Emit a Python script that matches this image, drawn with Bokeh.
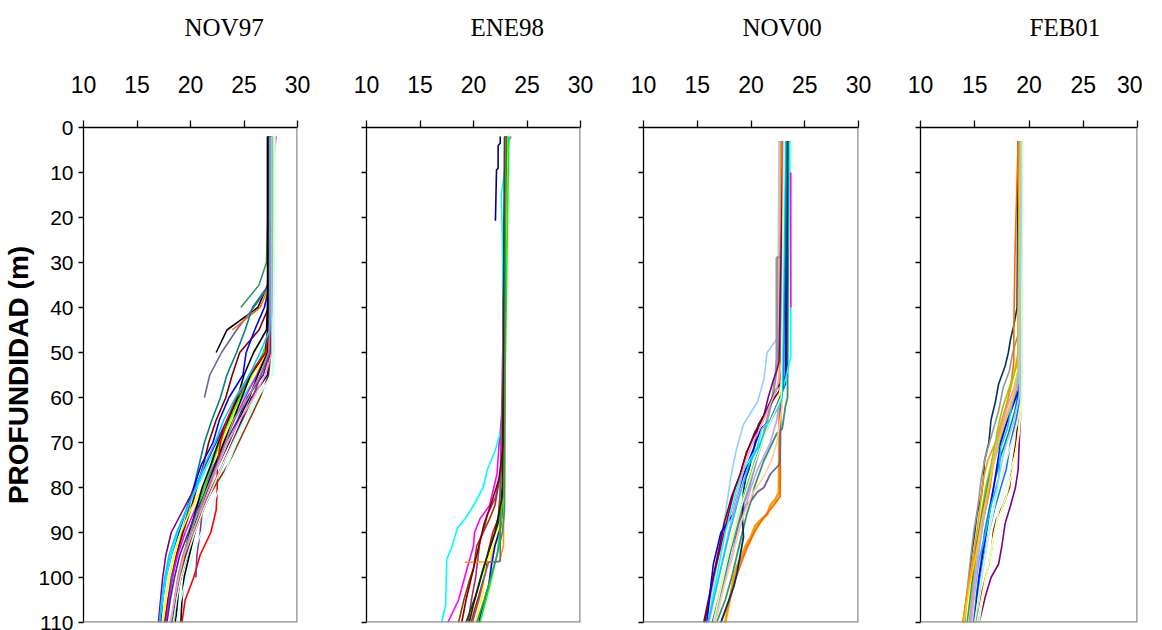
from bokeh.plotting import figure
from bokeh.layouts import row
from bokeh.models import FixedTicker, Range1d, Span, Title, LinearAxis
from bokeh.embed import file_html
from bokeh.resources import INLINE

X_TICKS = [10, 15, 20, 25, 30]
Y_TICKS = [0, 10, 20, 30, 40, 50, 60, 70, 80, 90, 100, 110]
TITLES = ["NOV97", "ENE98", "NOV00", "FEB01"]
Y_LABEL = "PROFUNDIDAD (m)"

# ---------------- NOV97 (shared depth grid) ----------------
NOV97_GRID = [2, 10, 20, 30, 35, 40, 45, 50, 55, 60, 65, 70, 75, 80, 85, 90, 95, 100, 105, 110]
NOV97_COLORS = ["#000000", "#666699", "#FF6600", "#339966", "#008080", "#800000", "#0000FF",
                "#800080", "#00FFFF", "#FFFF00", "#FF00FF", "#00FF00", "#000000", "#000000",
                "#000000", "#FF0000", "#993300", "#000080", "#333399", "#993366", "#969696",
                "#00CCFF", "#CCFFCC", "#FF99CC", "#CCFFFF"]
NOV97_TEMPS = [
    [27.3, 27.3, 27.3, 27.3, 27.2, 26.3, 23.4, 22.4],
    [27.4, 27.4, 27.4, 27.4, 27.4, 25.9, 24.3, 22.9, 21.8, 21.3],
    [27.5, 27.5, 27.5, 27.5, 27.4, 26.5, 23.9],
    [27.2, 27.2, 27.2, 27.1, 26.4, 24.7],
    [27.4, 27.4, 27.4, 27.4, 27.3, 25.8, 25.1, 24.3, 23.4, 22.8, 22.0, 21.3, 20.8, 20.3, 19.8, 19.2, 18.7, 18.2, 17.9, 17.6],
    [27.4, 27.4, 27.4, 27.4, 27.4, 27.3, 26.4, 24.6, 23.9, 23.3, 22.4, 21.7, 21.2, 20.6, 20.0, 19.3, 18.7, 18.3, 17.9, 17.6],
    [27.5, 27.5, 27.5, 27.5, 27.4, 26.9, 26.0, 25.2, 24.9, 23.6, 22.7, 22.1, 21.0, 20.3, 19.6, 18.9, 18.2, 17.7, 17.4, 17.2],
    [27.5, 27.5, 27.5, 27.5, 27.5, 27.5, 27.4, 27.0, 25.7, 24.5, 23.4, 22.4, 21.4, 20.4, 19.3, 18.2, 17.7, 17.4, 17.2, 17.0],
    [27.6, 27.6, 27.6, 27.6, 27.6, 27.5, 27.4, 27.2, 26.2, 24.9, 23.7, 22.7, 21.6, 20.6, 19.6, 18.8, 18.2, 17.7, 17.4, 17.1],
    [27.6, 27.6, 27.6, 27.6, 27.5, 27.5, 27.4, 27.3, 25.8, 24.7, 23.8, 22.9, 22.0, 21.1, 20.0, 19.1, 18.5, 18.0, 17.7, 17.4],
    [28.0, 27.6, 27.6, 27.6, 27.6, 27.5, 27.5, 27.2, 26.2, 25.1, 24.1, 23.2, 22.2, 21.3, 20.4, 19.5, 18.8, 18.3, 18.0, 17.7],
    [27.7, 27.7, 27.7, 27.7, 27.6, 27.6, 27.5, 26.8, 25.7, 24.6, 23.6, 22.7, 22.0, 21.3, 20.6, 20.0, 19.4, 18.9, 18.5, 18.3],
    [27.2, 27.2, 27.2, 27.2, 27.2, 27.2, 27.2, 27.0, 25.6, 24.8, 24.0, 23.1, 22.3, 21.5, 20.8, 20.2, 19.6, 19.1, 18.7, 18.4],
    [27.3, 27.3, 27.3, 27.3, 27.3, 27.2, 27.1, 25.9, 25.0, 24.4, 23.5, 22.6, 21.9, 21.1, 20.5, 19.9, 19.4, 19.0, 18.8, 18.6],
    [27.3, 27.3, 27.3, 27.3, 27.3, 27.3, 27.3, 27.2, 26.3, 25.5, 24.5, 23.6, 22.6, 21.7, 21.0, 20.4, 19.9, 19.4, 19.2, 19.1],
    [27.4, 27.4, 27.4, 27.4, 27.4, 27.4, 27.3, 27.0, 25.5, 24.3, 23.4, 22.8, 22.5, 22.5, 22.4, 21.9, 20.9, 20.3, 19.5, 19.2],
    [27.5, 27.5, 27.5, 27.5, 27.5, 27.5, 27.5, 27.5, 27.3, 26.5, 25.5, 24.5, 23.5, 22.2, 21.0, 20.2, 19.5, 19.0, 18.5, 18.2],
    [27.4, 27.4, 27.4, 27.4, 27.4, 27.4, 27.4, 27.4, 27.2, 25.7, 24.8, 23.9, 23.0, 22.1, 21.2, 20.4, 19.7, 19.1, 18.6, 18.2],
    [27.4, 27.4, 27.4, 27.4, 27.4, 27.4, 27.4, 27.4, 26.8, 25.3, 24.4, 23.3, 22.4, 21.6, 20.6, 19.8, 19.0, 18.5, 18.1, 17.8],
    [27.4, 27.4, 27.4, 27.4, 27.4, 27.4, 27.4, 27.4, 26.6, 25.8, 24.9, 23.9, 23.0, 22.0, 21.1, 20.9, 20.6, 20.5],
    [27.4, 27.4, 27.4, 27.4, 27.4, 27.4, 27.4, 27.3, 26.5, 25.4, 24.0, 23.3, 22.5, 21.6, 20.8, 20.0, 19.3, 18.8, 18.5, 18.2],
    [27.5, 27.5, 27.5, 27.5, 27.5, 27.5, 27.4, 26.5, 25.5, 24.2, 23.1, 22.3, 21.3, 20.5, 19.6, 18.7, 18.0, 17.6, 17.3, 17.1],
    [27.8, 27.8, 27.8, 27.8, 27.8, 27.8, 27.8, 27.8, 27.7, 26.0, 25.0, 24.0, 23.0, 22.1, 21.2, 20.4, 19.7, 19.1, 18.7, 18.4],
    [27.6, 27.6, 27.6, 27.6, 27.6, 27.6, 27.6, 27.6, 27.0, 25.9, 24.6, 23.5, 22.6, 21.8, 21.0, 20.2, 19.4, 18.9, 18.5, 18.1],
    [27.9, 27.9, 27.9, 27.8, 27.8, 27.8, 27.7, 27.7, 27.6, 26.3, 25.2, 24.3, 23.5, 22.7, 21.9, 21.0, 20.2, 19.6, 19.1, 18.7],
]

# ---------------- ENE98 ----------------
ENE98_COLORS = ["#000080", "#FF00FF", "#00FFFF", "#993300", "#993366", "#FF0000", "#FFFF00",
                "#FFCC00", "#0000FF", "#00FF00", "#333300", "#FF9900", "#666699", "#003300",
                "#800000", "#339966"]
ENE98_DEPTHS = [
    [2, 3.5, 4, 9, 9.5, 20.7],
    [2, 4, 13, 20, 40, 60, 65, 70, 77, 81, 84, 87, 90, 93, 98, 105, 110],
    [2, 10, 15, 25, 60, 63, 67, 72, 76, 80, 84, 87, 89, 93, 96, 106, 110],
    [2, 40, 70, 77, 84, 87, 90, 93, 98, 100, 105, 110],
    [2, 60, 75, 82, 86, 89, 92, 100, 105, 110],
    [2, 40, 50, 62, 68, 81, 87, 90, 94, 99, 104, 108, 110],
    [2, 50, 73, 86, 91, 95, 97, 103, 109, 110],
    [2, 80, 89, 95, 101, 107, 110],
    [2, 72, 83, 89, 93, 97, 102, 106, 110],
    [2, 78, 87, 95, 102, 110],
    [2, 80, 88, 93, 98, 104, 110],
    [2, 60, 93, 96.5, 96.6],
    [2, 80, 96.4, 96.6, 100, 105, 110],
    [2, 82, 90, 95, 100, 106, 110],
    [2, 70, 78, 84, 88, 92, 96, 100, 105, 110],
    [2, 85, 90, 95, 100, 105, 110],
]
ENE98_TEMPS = [
    [22.5, 22.5, 22.3, 22.3, 22.15, 22.05],
    [23.5, 23.1, 23.1, 22.9, 22.9, 22.8, 22.6, 22.4, 22.2, 21.8, 21.5, 20.6, 20.1, 20.0, 19.4, 18.6, 17.6],
    [23.4, 22.9, 22.6, 22.7, 22.8, 22.8, 22.6, 22.0, 21.3, 20.9, 20.0, 19.2, 18.5, 18.0, 17.5, 17.4, 17.0],
    [23.0, 22.8, 22.8, 22.5, 22.0, 21.5, 20.9, 20.3, 20.0, 19.7, 19.1, 18.6],
    [23.1, 22.8, 22.6, 22.1, 21.3, 21.0, 20.6, 20.2, 19.8, 19.5],
    [23.2, 22.9, 22.95, 22.9, 22.6, 22.5, 22.3, 21.8, 21.4, 21.1, 20.5, 20.0, 19.8],
    [23.2, 22.9, 22.8, 22.6, 22.2, 21.5, 21.1, 20.9, 20.3, 20.2],
    [23.1, 22.9, 22.6, 21.7, 21.5, 20.9, 20.6],
    [23.0, 22.8, 22.8, 22.5, 22.0, 21.7, 21.4, 20.9, 20.5],
    [23.3, 22.8, 22.6, 22.2, 21.5, 20.6],
    [22.9, 22.7, 22.3, 21.6, 20.9, 20.2, 19.3],
    [23.0, 22.9, 22.8, 22.4, 19.2],
    [23.1, 22.5, 22.5, 21.4, 21.0, 20.5, 19.9],
    [23.0, 22.7, 22.0, 21.3, 20.7, 20.0, 19.6],
    [23.0, 22.8, 22.4, 21.6, 21.0, 20.6, 20.2, 19.8, 19.3, 18.9],
    [23.0, 22.9, 22.7, 22.2, 21.6, 21.0, 20.3],
]

# ---------------- NOV00 ----------------
NOV00_COLORS = ["#99CCFF", "#FF9900", "#FF6600", "#969696", "#339966", "#666699", "#003366",
                "#800080", "#800000", "#0000FF", "#00FFFF", "#FF99CC", "#CC99FF", "#FFCC99",
                "#FFFF99", "#FF00FF", "#008080", "#00CCFF", "#CCFFCC"]
NOV00_WIDTHS = [1.6, 2.6, 1.8, 2.6, 1.8, 1.8, 1.8, 1.6, 1.6, 1.6, 1.6, 1.6, 1.6, 1.6,
                1.6, 1.6, 1.6, 1.6, 1.6]
NOV00_DEPTHS = [
    [3, 46, 47, 50, 56, 61, 66, 72, 78, 86, 92, 100, 110],
    [3, 81, 82.5, 84, 86, 87, 88.5, 91, 93, 95, 97.5, 100, 104, 110],
    [3, 82, 84, 86, 88, 90, 93, 96, 100, 105, 110],
    [3, 28, 29, 51, 55, 60, 64, 68, 73, 80, 86, 92, 100, 110],
    [3, 60, 62, 67, 68, 71, 74, 76, 80, 83, 86, 89, 92, 100, 105, 110],
    [3, 74, 75, 77, 80, 81, 83, 84, 87, 91, 95, 100, 105, 110],
    [3, 55, 57, 58, 61, 64, 66, 71, 76, 78, 81, 87, 91, 99, 102, 106, 110],
    [3, 52, 54, 56, 60, 64, 68, 73, 77, 81, 87, 93, 100, 110],
    [3, 58, 60, 64, 68, 72, 77, 82, 88, 95, 102, 110],
    [3, 44, 57, 60, 65, 67, 71, 74, 78, 82, 86, 90, 97, 103, 110],
    [3, 42, 51, 55, 62, 65, 67, 71, 73, 76, 80, 84, 90, 100, 110],
    [3, 50, 58, 62, 66, 71, 75, 82, 90, 100, 110],
    [3, 55, 65, 70, 73, 76, 80, 86, 92, 100, 110],
    [3, 62, 70, 74, 78, 81, 84, 88, 95, 102, 110],
    [3, 55, 62, 66, 71, 76, 82, 90, 100, 110],
    [10, 40],
    [3, 58, 63, 68, 74, 80, 87, 95, 103, 110],
    [3, 60, 66, 70, 75, 82, 90, 100, 110],
    [3, 60, 67, 75, 85, 95, 110],
]
NOV00_TEMPS = [
    [22.6, 22.5, 22.4, 21.5, 21.2, 20.6, 19.3, 18.6, 18.1, 17.6, 17.2, 16.6, 15.8],
    [22.8, 22.6, 22.3, 21.8, 21.5, 21.0, 20.4, 20.0, 19.5, 19.2, 18.7, 18.4, 18.1, 17.6],
    [22.9, 22.7, 22.1, 21.4, 20.8, 20.3, 19.7, 19.2, 18.6, 18.0, 17.2],
    [23.3, 23.3, 22.4, 22.4, 22.3, 22.0, 21.6, 21.2, 20.6, 19.8, 19.0, 18.3, 17.4, 16.4],
    [23.5, 23.4, 23.2, 22.9, 22.4, 21.8, 21.2, 20.9, 20.3, 20.0, 19.6, 19.3, 19.0, 18.2, 17.6, 16.8],
    [23.0, 22.7, 22.6, 21.8, 21.2, 20.6, 20.0, 19.5, 19.0, 18.6, 18.3, 17.6, 17.0, 16.5],
    [23.4, 23.3, 22.7, 22.4, 21.8, 21.2, 20.7, 20.3, 19.8, 19.5, 19.3, 19.2, 19.3, 18.7, 18.4, 17.8, 17.2],
    [23.0, 22.6, 22.4, 22.1, 21.6, 21.2, 20.3, 19.5, 19.0, 18.4, 17.8, 17.2, 16.5, 15.7],
    [23.1, 22.8, 22.2, 21.2, 20.4, 19.6, 19.0, 18.2, 17.5, 16.9, 16.3, 15.6],
    [23.2, 23.2, 23.2, 22.7, 21.8, 20.9, 20.3, 19.8, 19.2, 18.7, 18.3, 17.2, 16.5, 16.2, 15.9],
    [23.6, 23.7, 23.7, 23.3, 22.6, 21.8, 21.0, 20.6, 20.1, 19.3, 18.7, 18.3, 17.6, 16.8, 16.0],
    [23.1, 23.0, 22.4, 21.7, 21.0, 20.0, 19.4, 18.7, 17.9, 17.0, 16.1],
    [23.0, 22.9, 22.4, 21.8, 21.2, 20.6, 20.0, 19.3, 18.6, 17.6, 16.6],
    [23.1, 22.9, 22.4, 21.9, 21.1, 20.2, 19.7, 19.0, 18.3, 17.5, 16.7],
    [23.2, 23.0, 22.4, 21.7, 20.8, 20.0, 19.3, 18.3, 17.3, 16.3],
    [23.7, 23.7],
    [23.3, 23.0, 22.2, 21.3, 20.4, 19.6, 18.8, 18.0, 17.2, 16.4],
    [23.2, 22.9, 21.7, 20.9, 19.8, 18.9, 18.0, 17.0, 16.0],
    [23.1, 22.8, 21.5, 20.3, 19.0, 17.9, 16.5],
]

# ---------------- FEB01 ----------------
FEB01_COLORS = ["#003366", "#969696", "#FF6600", "#FF9900", "#99CC00", "#339966", "#008080",
                "#800080", "#800000", "#0000FF", "#3366FF", "#00CCFF", "#CCFFFF", "#FFFF99",
                "#FF99CC", "#CC99FF", "#FFCC00", "#99CCFF", "#CCFFCC"]
FEB01_DEPTHS = [
    [3, 40, 44, 47, 50, 53, 57, 61, 65, 70, 74, 78, 82, 86, 90, 95, 100, 105, 110],
    [3, 46, 50, 54, 58, 63, 68, 73, 78, 84, 90, 96, 103, 110],
    [3, 20, 29, 45, 52, 56, 60, 65, 70, 75, 80, 85, 90, 95, 100, 105, 110],
    [3, 50, 55, 60, 65, 70, 74, 78, 84, 90, 96, 102, 110],
    [3, 52, 57, 62, 66, 70, 75, 80, 86, 92, 100, 110],
    [3, 55, 60, 65, 70, 74, 78, 83, 88, 94, 100, 110],
    [3, 58, 63, 68, 73, 78, 84, 90, 96, 103, 110],
    [3, 54, 65, 70, 76, 80, 84, 88, 93, 97, 100, 104, 110],
    [3, 62, 70, 76, 80, 84, 87, 90, 93, 97, 103, 110],
    [3, 58, 62, 66, 70, 76, 82, 88, 94, 100, 110],
    [3, 60, 65, 70, 76, 80, 85, 90, 96, 102, 110],
    [3, 56, 62, 67, 71, 78, 84, 90, 96, 103, 110],
    [3, 60, 68, 72, 78, 84, 90, 96, 110],
    [3, 62, 70, 76, 82, 86, 90, 95, 100, 110],
    [3, 56, 62, 66, 70, 75, 80, 86, 92, 100, 110],
    [3, 52, 58, 62, 66, 72, 78, 84, 92, 100, 110],
    [3, 54, 60, 66, 71, 76, 82, 88, 95, 102, 110],
    [3, 60, 66, 72, 78, 84, 90, 96, 104, 110],
    [3, 20, 60, 66, 74, 82, 90, 100, 110],
]
FEB01_TEMPS = [
    [19.0, 18.9, 18.6, 18.3, 18.1, 17.8, 17.2, 16.9, 16.5, 16.3, 15.9, 15.8, 15.6, 15.2, 15.0, 14.7, 14.5, 14.2, 14.0],
    [19.1, 19.0, 18.5, 18.2, 17.6, 17.2, 16.6, 16.0, 15.6, 15.3, 14.9, 14.6, 14.3, 14.1],
    [19.0, 18.8, 18.7, 18.6, 18.6, 18.4, 18.1, 17.6, 17.1, 16.7, 16.4, 16.0, 15.4, 14.9, 14.6, 14.2, 13.9],
    [19.1, 19.0, 18.6, 18.1, 17.5, 16.9, 16.2, 15.8, 15.5, 15.2, 14.8, 14.4, 13.9],
    [19.2, 19.0, 18.3, 17.6, 17.2, 16.9, 16.5, 16.0, 15.6, 15.3, 14.9, 14.5],
    [19.3, 19.2, 18.7, 18.0, 17.3, 16.8, 16.3, 15.9, 15.5, 15.1, 14.8, 14.3],
    [19.2, 19.1, 18.7, 18.1, 17.4, 16.9, 16.4, 15.9, 15.6, 15.2, 14.9],
    [19.3, 19.3, 19.2, 19.1, 19.0, 18.75, 18.3, 17.8, 17.5, 17.2, 16.5, 16.0, 15.4],
    [19.2, 19.1, 18.8, 18.4, 18.2, 17.6, 17.0, 16.7, 16.6, 16.3, 15.7, 15.2],
    [19.2, 19.1, 18.5, 17.9, 17.4, 17.0, 16.6, 16.2, 15.8, 15.4, 15.0],
    [19.3, 19.2, 18.8, 18.3, 17.9, 17.4, 16.8, 16.3, 15.8, 15.4, 15.1],
    [19.2, 19.0, 18.4, 18.0, 17.4, 17.2, 16.5, 16.0, 15.4, 15.0, 14.6],
    [19.4, 19.3, 19.1, 18.8, 18.1, 17.3, 16.8, 16.3, 15.4],
    [19.4, 19.3, 18.9, 18.5, 17.9, 17.3, 16.8, 16.5, 16.0, 15.2],
    [19.2, 19.1, 18.3, 17.7, 17.2, 16.7, 16.3, 15.9, 15.5, 15.1, 14.7],
    [19.3, 19.2, 18.6, 18.0, 17.5, 16.9, 16.4, 16.0, 15.5, 15.0, 14.6],
    [19.2, 19.0, 18.5, 17.6, 17.1, 16.6, 16.1, 15.6, 15.1, 14.5, 14.0],
    [19.3, 19.1, 18.5, 17.7, 17.2, 16.8, 16.3, 15.9, 15.4, 15.0],
    [19.4, 19.4, 19.3, 18.9, 17.9, 17.0, 16.3, 15.6, 15.0],
]

TICK_FONT = "Liberation Sans"
TITLE_FONT = "Liberation Serif"


def make_panel(idx, depths, temps, colors, widths, border_left, frame_w, border_right,
               title_offset, spacer):
    p = figure(frame_width=frame_w, frame_height=495,
               x_range=Range1d(10, 30), y_range=Range1d(110, 0),
               x_axis_location="above", toolbar_location=None, output_backend="svg",
               min_border_left=border_left, min_border_right=border_right,
               min_border_top=127, min_border_bottom=8,
               background_fill_color="white", border_fill_color="white")
    p.outline_line_color = None
    p.grid.visible = False

    for z, t, c, w in zip(depths, temps, colors, widths):
        p.line(x=t, y=z, line_color=c, line_width=w)

    p.add_layout(Span(location=30, dimension="height", line_color="#8c8c8c", line_width=2.5))
    p.add_layout(Span(location=110, dimension="width", line_color="#8c8c8c", line_width=2.5))

    xa = p.xaxis[0]
    xa.ticker = FixedTicker(ticks=X_TICKS, minor_ticks=[])
    xa.axis_line_color = "black"
    xa.axis_line_width = 1.3
    xa.major_tick_line_color = "black"
    xa.major_tick_line_width = 1.3
    xa.major_tick_out = 7
    xa.major_tick_in = 0
    xa.minor_tick_line_color = None
    xa.major_label_text_font = TICK_FONT
    xa.major_label_text_font_size = "23px"
    xa.major_label_text_color = "black"
    xa.major_label_standoff = 28

    # invisible axis used only as vertical space between the tick labels and the title
    gap_tick = X_TICKS[2]
    gap = LinearAxis(ticker=FixedTicker(ticks=[gap_tick], minor_ticks=[]),
                     axis_line_color=None, major_tick_line_color=None,
                     minor_tick_line_color=None, major_tick_out=spacer, major_tick_in=0,
                     major_label_standoff=0, major_label_overrides={gap_tick: ""})
    p.add_layout(gap, "above")

    p.add_layout(Title(text=TITLES[idx], align="left", offset=title_offset, standoff=2,
                       text_font=TITLE_FONT, text_font_size="25px", text_font_style="normal",
                       text_color="black"), "above")

    ya = p.yaxis[0]
    ya.ticker = FixedTicker(ticks=Y_TICKS, minor_ticks=[])
    ya.axis_line_color = "black"
    ya.axis_line_width = 1.3
    ya.major_tick_line_color = "black"
    ya.major_tick_line_width = 1.3
    ya.major_tick_out = 5
    ya.major_tick_in = 0
    ya.minor_tick_line_color = None
    if idx == 0:
        ya.major_label_text_font = TICK_FONT
        ya.major_label_text_font_size = "21px"
        ya.major_label_text_color = "black"
        ya.major_label_standoff = 5
        ya.axis_label = Y_LABEL
        ya.axis_label_text_font = "Liberation Sans"
        ya.axis_label_text_font_style = "bold"
        ya.axis_label_text_font_size = "28px"
        ya.axis_label_text_color = "black"
        ya.axis_label_standoff = 1
    else:
        ya.major_label_overrides = {t: "" for t in Y_TICKS}
    return p


nov97_depths = [NOV97_GRID[:len(t)] for t in NOV97_TEMPS]
p1 = make_panel(0, nov97_depths, NOV97_TEMPS, NOV97_COLORS, [1.6] * len(NOV97_TEMPS),
                83, 214, 20, 101, 31)
p2 = make_panel(1, ENE98_DEPTHS, ENE98_TEMPS, ENE98_COLORS, [1.6] * len(ENE98_TEMPS),
                49, 214, 20, 104, 31)
p3 = make_panel(2, NOV00_DEPTHS, NOV00_TEMPS, NOV00_COLORS, NOV00_WIDTHS,
                43, 215, 20, 99, 31)
p4 = make_panel(3, FEB01_DEPTHS, FEB01_TEMPS, FEB01_COLORS, [1.6] * len(FEB01_TEMPS),
                42, 217, 5, 109, 31)

layout = row(p1, p2, p3, p4)
open("out.html", "w").write(file_html(layout, INLINE))
